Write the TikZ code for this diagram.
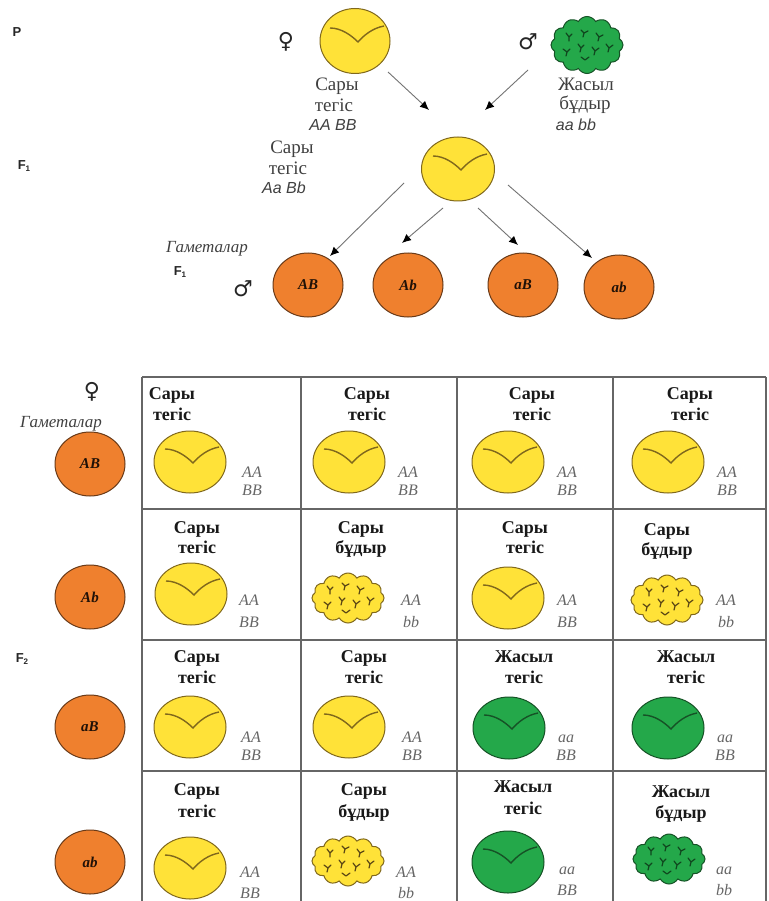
\documentclass[tikz,border=0pt]{standalone}
\usepackage{fontspec}
\setmainfont{Liberation Serif}
\setsansfont{Liberation Sans}
\newfontfamily\symfamily{DejaVu Sans}
\usetikzlibrary{shapes.geometric,shapes.symbols,arrows.meta}

\definecolor{peaY}{RGB}{255,226,56}
\definecolor{peaYline}{RGB}{128,104,28}
\definecolor{peaYmark}{RGB}{90,70,20}
\definecolor{peaG}{RGB}{36,168,74}
\definecolor{peaGline}{RGB}{22,82,38}
\definecolor{peaGmark}{RGB}{16,70,30}
\definecolor{gamO}{RGB}{239,128,46}
\definecolor{gamOline}{RGB}{105,58,24}

\tikzset{
  % smooth pea: round seed with a fold mark
  smooth/.style 2 args={ellipse, minimum width=72pt, minimum height=62pt, inner sep=0pt,
    fill=#1, draw=#2, line width=1pt,
    path picture={\draw[#2, line width=1.4pt, shift={(path picture bounding box.center)}]
      (-25,-13) .. controls (-14,-13) and (-4,-6) .. (3,1)
      .. controls (9,-6) and (18,-13) .. (29,-15);}},
  % wrinkled pea: bumpy outline with a few scattered creases
  wrinkled/.style n args={3}{cloud, cloud puffs=12, cloud puff arc=120, cloud ignores aspect,
    minimum width=72pt, minimum height=50pt, inner sep=0pt,
    fill=#1, draw=#2, line width=1pt,
    path picture={\draw[#3, line width=1.2pt, line cap=round, line join=round,
        shift={(path picture bounding box.center)}]
      (-21,-12) -- (-18,-8) -- (-15,-11)  (-18,-8) -- (-18,-4)
      (-6,-15) -- (-3,-12) -- (1,-14)     (-3,-12) -- (-4,-8)
      (9,-12) -- (12,-8) -- (16,-10)      (12,-8) -- (11,-4)
      (19,-1) -- (22,3) -- (26,0)         (22,3) -- (21,7)
      (-24,4) -- (-20,7) -- (-17,4)       (-20,7) -- (-21,11)
      (-9,-1) -- (-6,3) -- (-3,0)         (-6,3) -- (-7,7)
      (5,2) -- (8,6) -- (12,3)            (8,6) -- (7,10)
      (-6,12) -- (-2,15) -- (2,12);}},
  gamete/.style={ellipse, minimum width=70pt, minimum height=64pt, inner sep=0pt,
    fill=gamO, draw=gamOline, line width=1pt,
    font=\bfseries\itshape\fontsize{15}{17}\selectfont, text=black!70!gamOline},
  lbl/.style={font=\sffamily\bfseries\fontsize{13}{15}\selectfont, text=black!85, anchor=base},
  sym/.style={font=\symfamily\bfseries\fontsize{22}{24}\selectfont, text=black!85},
  toptxt/.style={font=\fontsize{19}{21}\selectfont, text=black!75, anchor=base},
  topgen/.style={font=\sffamily\itshape\fontsize{16}{18}\selectfont, text=black!75, anchor=base},
  gamtxt/.style={font=\itshape\fontsize{17}{19}\selectfont, text=black!75, anchor=base},
  celltitle/.style={font=\bfseries\fontsize{18}{20}\selectfont, text=black!90, anchor=base},
  cellgen/.style={font=\itshape\fontsize{16}{18}\selectfont, text=black!60, anchor=base},
  arr/.style={draw=black!55, line width=0.9pt, -{Latex[length=9pt,width=8pt,color=black]}},
  gridline/.style={draw=black!60, line width=1.4pt},
}

\newcommand\Fsub[1]{F\raisebox{-2pt}{\fontsize{8}{9}\selectfont #1}}

\begin{document}
\begin{tikzpicture}[x=1pt, y=-1pt]
\useasboundingbox[fill=white] (0,0) rectangle (768,901);

% ---------- generation labels ----------
\node[lbl] (lP)  at (17,37)  {P};
\node[lbl] (lF1) at (24,170) {\Fsub{1}};
\node[lbl] (lF2) at (22,662) {\Fsub{2}};

% ---------- parents ----------
\node[sym] (sF) at (286,42) {♀};
\node[smooth={peaY}{peaYline}, minimum width=70pt, minimum height=65pt] (fem) at (355,41) {};
\node[toptxt] (femt1) at (337,91)  {Сары};
\node[toptxt] (femt2) at (334,112) {тегіс};
\node[topgen] (femg)  at (333,131) {AA BB};

\node[sym] (sM) at (528,42) {♂};
\node[wrinkled={peaG}{peaGline}{peaGmark}, minimum height=57pt] (mal) at (587,45) {};
\node[toptxt] (malt1) at (586,91)  {Жасыл};
\node[toptxt] (malt2) at (585,110) {бұдыр};
\node[topgen] (malg)  at (576,131) {aa bb};

% ---------- F1 ----------
\node[smooth={peaY}{peaYline}, minimum width=73pt, minimum height=64pt] (f1) at (458,169) {};
\node[toptxt] (f1t1) at (292,154) {Сары};
\node[toptxt] (f1t2) at (288,175) {тегіс};
\node[topgen] (f1g)  at (284,194) {Aa Bb};

\coordinate (aFs) at (388,72);  \coordinate (aFe) at (429,110);
\coordinate (aMs) at (528,70);  \coordinate (aMe) at (485,110);
\draw[arr] (aFs) -- (aFe);
\draw[arr] (aMs) -- (aMe);

% ---------- F1 gametes ----------
\node[gamtxt] (gamt1) at (207,252) {Гаметалар};
\node[lbl] (lF1b) at (180,275) {\Fsub{1}};
\node[sym] (sM2) at (243,289) {♂};
\node[gamete] (gAB) at (308,285) {AB};
\node[gamete] (gAb) at (408,285) {Ab};
\node[gamete] (gaB) at (523,285) {aB};
\node[gamete] (gab) at (619,287) {ab};

\coordinate (b1s) at (404,183); \coordinate (b1e) at (330,256);
\coordinate (b2s) at (443,208); \coordinate (b2e) at (402,243);
\coordinate (b3s) at (478,208); \coordinate (b3e) at (518,245);
\coordinate (b4s) at (508,185); \coordinate (b4e) at (592,258);
\draw[arr] (b1s) -- (b1e);
\draw[arr] (b2s) -- (b2e);
\draw[arr] (b3s) -- (b3e);
\draw[arr] (b4s) -- (b4e);

% ---------- Punnett square ----------
\draw[gridline] (142,377) -- (766,377);
\draw[gridline] (142,509) -- (766,509);
\draw[gridline] (142,640) -- (766,640);
\draw[gridline] (142,771) -- (766,771);
\foreach \gx in {142,301,457,613,766}
  \draw[gridline] (\gx,377) -- (\gx,901);

% female gametes column
\node[sym] (sF2) at (92,392) {♀};
\node[gamtxt] (gamt2) at (61,427) {Гаметалар};
\node[gamete] (hAB) at (90,464) {AB};
\node[gamete] (hAb) at (90,597) {Ab};
\node[gamete] (haB) at (90,727) {aB};
\node[gamete] (hab) at (90,862) {ab};

% row 1
\node[celltitle] (c11a) at (172,399) {Сары};  \node[celltitle] (c11b) at (172,420) {тегіс};
\node[smooth={peaY}{peaYline}] (c11p) at (190,462) {};
\node[cellgen] (c11g) at (252,477) {AA}; \node[cellgen] (c11h) at (252,495) {BB};

\node[celltitle] (c12a) at (367,399) {Сары};  \node[celltitle] (c12b) at (367,420) {тегіс};
\node[smooth={peaY}{peaYline}] (c12p) at (349,462) {};
\node[cellgen] (c12g) at (408,477) {AA}; \node[cellgen] (c12h) at (408,495) {BB};

\node[celltitle] (c13a) at (532,399) {Сары};  \node[celltitle] (c13b) at (532,420) {тегіс};
\node[smooth={peaY}{peaYline}] (c13p) at (508,462) {};
\node[cellgen] (c13g) at (567,477) {AA}; \node[cellgen] (c13h) at (567,495) {BB};

\node[celltitle] (c14a) at (690,399) {Сары};  \node[celltitle] (c14b) at (690,420) {тегіс};
\node[smooth={peaY}{peaYline}] (c14p) at (668,462) {};
\node[cellgen] (c14g) at (727,477) {AA}; \node[cellgen] (c14h) at (727,495) {BB};

% row 2
\node[celltitle] (c21a) at (197,533) {Сары};  \node[celltitle] (c21b) at (197,553) {тегіс};
\node[smooth={peaY}{peaYline}] (c21p) at (191,594) {};
\node[cellgen] (c21g) at (249,605) {AA}; \node[cellgen] (c21h) at (249,627) {BB};

\node[celltitle] (c22a) at (361,533) {Сары};  \node[celltitle] (c22b) at (361,553) {бұдыр};
\node[wrinkled={peaY}{peaYline}{peaYmark}] (c22p) at (348,598) {};
\node[cellgen] (c22g) at (411,605) {AA}; \node[cellgen] (c22h) at (411,627) {bb};

\node[celltitle] (c23a) at (525,533) {Сары};  \node[celltitle] (c23b) at (525,553) {тегіс};
\node[smooth={peaY}{peaYline}] (c23p) at (508,598) {};
\node[cellgen] (c23g) at (567,605) {AA}; \node[cellgen] (c23h) at (567,627) {BB};

\node[celltitle] (c24a) at (667,535) {Сары};  \node[celltitle] (c24b) at (667,555) {бұдыр};
\node[wrinkled={peaY}{peaYline}{peaYmark}] (c24p) at (667,600) {};
\node[cellgen] (c24g) at (726,605) {AA}; \node[cellgen] (c24h) at (726,627) {bb};

% row 3
\node[celltitle] (c31a) at (197,662) {Сары};  \node[celltitle] (c31b) at (197,683) {тегіс};
\node[smooth={peaY}{peaYline}] (c31p) at (190,727) {};
\node[cellgen] (c31g) at (251,742) {AA}; \node[cellgen] (c31h) at (251,760) {BB};

\node[celltitle] (c32a) at (364,662) {Сары};  \node[celltitle] (c32b) at (364,683) {тегіс};
\node[smooth={peaY}{peaYline}] (c32p) at (349,727) {};
\node[cellgen] (c32g) at (412,742) {AA}; \node[cellgen] (c32h) at (412,760) {BB};

\node[celltitle] (c33a) at (524,662) {Жасыл};  \node[celltitle] (c33b) at (524,683) {тегіс};
\node[smooth={peaG}{peaGline}] (c33p) at (509,728) {};
\node[cellgen] (c33g) at (566,742) {aa}; \node[cellgen] (c33h) at (566,760) {BB};

\node[celltitle] (c34a) at (686,662) {Жасыл};  \node[celltitle] (c34b) at (686,683) {тегіс};
\node[smooth={peaG}{peaGline}] (c34p) at (668,728) {};
\node[cellgen] (c34g) at (725,742) {aa}; \node[cellgen] (c34h) at (725,760) {BB};

% row 4
\node[celltitle] (c41a) at (197,795) {Сары};  \node[celltitle] (c41b) at (197,817) {тегіс};
\node[smooth={peaY}{peaYline}] (c41p) at (190,868) {};
\node[cellgen] (c41g) at (250,877) {AA}; \node[cellgen] (c41h) at (250,898) {BB};

\node[celltitle] (c42a) at (364,795) {Сары};  \node[celltitle] (c42b) at (364,817) {бұдыр};
\node[wrinkled={peaY}{peaYline}{peaYmark}] (c42p) at (348,861) {};
\node[cellgen] (c42g) at (406,877) {AA}; \node[cellgen] (c42h) at (406,898) {bb};

\node[celltitle] (c43a) at (523,792) {Жасыл};  \node[celltitle] (c43b) at (523,814) {тегіс};
\node[smooth={peaG}{peaGline}] (c43p) at (508,862) {};
\node[cellgen] (c43g) at (567,874) {aa}; \node[cellgen] (c43h) at (567,895) {BB};

\node[celltitle] (c44a) at (681,797) {Жасыл};  \node[celltitle] (c44b) at (681,818) {бұдыр};
\node[wrinkled={peaG}{peaGline}{peaGmark}] (c44p) at (669,859) {};
\node[cellgen] (c44g) at (724,874) {aa}; \node[cellgen] (c44h) at (724,895) {bb};
\end{tikzpicture}
\end{document}
